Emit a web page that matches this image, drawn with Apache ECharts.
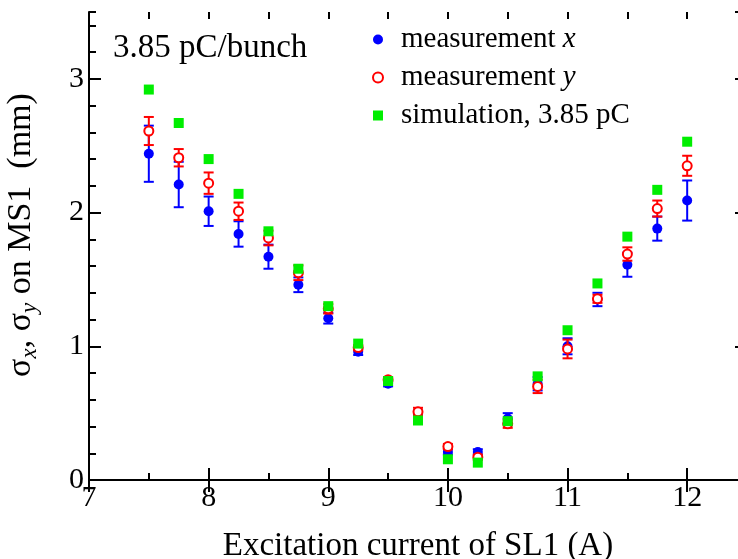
<!DOCTYPE html>
<html>
<head>
<meta charset="utf-8">
<script src="https://cdn.jsdelivr.net/npm/echarts@6/dist/echarts.min.js"></script>
<style>
  html, body { margin: 0; padding: 0; background: #fff; }
  #chart { width: 738px; height: 559px; }
</style>
</head>
<body>
<div id="chart"></div>
<script>
// excitation current of SL1 (A)
var current = [7.5, 7.75, 8, 8.25, 8.5, 8.75, 9, 9.25, 9.5, 9.75, 10, 10.25, 10.5, 10.75, 11, 11.25, 11.5, 11.75, 12];
// measured sigma x and its error (mm)
var sigmaX = [2.44, 2.21, 2.01, 1.84, 1.67, 1.46, 1.21, 0.96, 0.72, 0.49, 0.21, 0.21, 0.46, 0.72, 1.00, 1.35, 1.61, 1.88, 2.09];
var errX = [0.21, 0.17, 0.11, 0.095, 0.09, 0.055, 0.04, 0.025, 0.02, 0.03, 0.02, 0.02, 0.04, 0.05, 0.06, 0.05, 0.09, 0.09, 0.15];
// measured sigma y and its error (mm)
var sigmaY = [2.61, 2.41, 2.22, 2.01, 1.81, 1.55, 1.28, 0.99, 0.75, 0.51, 0.25, 0.17, 0.42, 0.70, 0.98, 1.355, 1.69, 2.03, 2.35];
var errY = [0.105, 0.065, 0.08, 0.065, 0.055, 0.055, 0.035, 0.02, 0.02, 0.03, 0.02, 0.02, 0.03, 0.05, 0.07, 0.03, 0.05, 0.06, 0.075];
// simulation, 3.85 pC
var sim = [2.92, 2.67, 2.40, 2.14, 1.86, 1.58, 1.30, 1.02, 0.74, 0.445, 0.155, 0.13, 0.44, 0.775, 1.12, 1.47, 1.82, 2.17, 2.53];

var FONT = '"Liberation Serif", "DejaVu Serif", serif';
var BLUE = '#0000ff', RED = '#ff0000', GREEN = '#00ee00';

function pts(vals) {
    return current.map(function (c, i) { return [c, vals[i]]; });
}
function errs(vals, e) {
    return current.map(function (c, i) { return [c, vals[i] - e[i], vals[i] + e[i]]; });
}

function errorBar(color) {
    return function (params, api) {
        var x = api.value(0);
        var top = api.coord([x, api.value(2)]);
        var bot = api.coord([x, api.value(1)]);
        var st = { stroke: color, lineWidth: 2 };
        return {
            type: 'group',
            children: [
                { type: 'line', shape: { x1: top[0], y1: top[1], x2: bot[0], y2: bot[1] }, style: st },
                { type: 'line', shape: { x1: top[0] - 5, y1: top[1], x2: top[0] + 5, y2: top[1] }, style: st },
                { type: 'line', shape: { x1: bot[0] - 5, y1: bot[1], x2: bot[0] + 5, y2: bot[1] }, style: st }
            ]
        };
    };
}

var myChart = echarts.init(document.getElementById('chart'));

// common axis bits
var lineBlack = { show: true, lineStyle: { color: '#000', width: 2 } };
function tick(len) {
    return { show: true, inside: true, length: len, lineStyle: { color: '#000', width: 2 } };
}

var option = {
    animation: false,
    backgroundColor: '#fff',
    // plot box runs a little past the right edge, like the original
    grid: { left: 89, top: 12, width: 658, height: 468, outerBoundsMode: 'none', containLabel: false },
    graphic: [{
        type: 'text', left: 113, top: 32,
        style: { text: '3.85 pC/bunch', font: '33px ' + FONT, fill: '#000' }
    }],
    legend: {
        orient: 'vertical', left: 372, top: 25, padding: 0,
        itemWidth: 10, itemHeight: 10, itemGap: 9,
        data: [
            { name: 'measurement x', icon: 'circle' },
            { name: 'measurement y', icon: 'emptyCircle' },
            { name: 'simulation, 3.85 pC', icon: 'rect' }
        ],
        formatter: function (name) {
            if (name === 'measurement x') return '{n|measurement }{i|x}';
            if (name === 'measurement y') return '{n|measurement }{i|y}';
            return '{n|' + name + '}';
        },
        textStyle: {
            padding: [0, 0, 0, 13],
            rich: {
                n: { fontFamily: FONT, fontSize: 29, color: '#000', lineHeight: 30 },
                i: { fontFamily: FONT, fontSize: 29, fontStyle: 'italic', color: '#000', lineHeight: 30 }
            }
        }
    },
    xAxis: [{
        type: 'value', min: 7, max: 12.5, interval: 1, position: 'bottom',
        axisLine: lineBlack, axisTick: tick(12), splitLine: { show: false },
        axisLabel: { color: '#000', fontFamily: FONT, fontSize: 30, margin: 3, showMaxLabel: false },
        name: 'Excitation current of SL1 (A)', nameLocation: 'middle', nameGap: 50,
        nameTextStyle: { color: '#000', fontFamily: FONT, fontSize: 33 }
    }, {
        type: 'value', min: 7, max: 12.5, interval: 0.5, position: 'bottom',
        axisLine: { show: false }, axisTick: tick(7), axisLabel: { show: false }, splitLine: { show: false }
    }, {
        type: 'value', min: 7, max: 12.5, interval: 1, position: 'top',
        axisLine: lineBlack, axisTick: tick(12), axisLabel: { show: false }, splitLine: { show: false }
    }, {
        type: 'value', min: 7, max: 12.5, interval: 0.5, position: 'top',
        axisLine: { show: false }, axisTick: tick(7), axisLabel: { show: false }, splitLine: { show: false }
    }],
    yAxis: [{
        type: 'value', min: 0, max: 3.5, interval: 1, position: 'left',
        axisLine: lineBlack, axisTick: tick(12), splitLine: { show: false },
        axisLabel: { color: '#000', fontFamily: FONT, fontSize: 30, margin: 5, showMaxLabel: false },
        name: '{s|σ}{b|x}{s|, σ}{b|y}{s| on MS1  (mm)}', nameLocation: 'middle', nameGap: 48,
        nameTextStyle: {
            padding: [0, 0, 0, 22],
            rich: {
                s: { fontFamily: FONT, fontSize: 34, color: '#000' },
                b: { fontFamily: FONT, fontSize: 23, fontStyle: 'italic', color: '#000', padding: [16, 0, 0, 0] }
            }
        }
    }, {
        type: 'value', min: 0, max: 3.5, interval: 0.2, position: 'left',
        axisLine: { show: false }, axisTick: tick(7), axisLabel: { show: false }, splitLine: { show: false }
    }, {
        type: 'value', min: 0, max: 3.5, interval: 1, position: 'right',
        axisLine: lineBlack, axisTick: tick(12), axisLabel: { show: false }, splitLine: { show: false }
    }],
    series: [{
        name: 'measurement x', type: 'custom', renderItem: errorBar(BLUE),
        data: errs(sigmaX, errX), encode: { x: 0, y: [1, 2] }, z: 2, silent: true,
        itemStyle: { color: BLUE }
    }, {
        name: 'measurement x', type: 'scatter', data: pts(sigmaX), symbol: 'circle', symbolSize: 10,
        itemStyle: { color: BLUE, opacity: 1 }, z: 3
    }, {
        name: 'measurement y', type: 'custom', renderItem: errorBar(RED),
        data: errs(sigmaY, errY), encode: { x: 0, y: [1, 2] }, z: 4, silent: true,
        itemStyle: { color: RED }
    }, {
        name: 'measurement y', type: 'scatter', data: pts(sigmaY), symbol: 'emptyCircle', symbolSize: 9,
        itemStyle: { color: RED, borderColor: RED, borderWidth: 2, opacity: 1 }, z: 5
    }, {
        name: 'simulation, 3.85 pC', type: 'scatter', data: pts(sim), symbol: 'rect', symbolSize: 10,
        itemStyle: { color: GREEN, opacity: 1 }, z: 6
    }]
};

myChart.setOption(option);
</script>
</body>
</html>
